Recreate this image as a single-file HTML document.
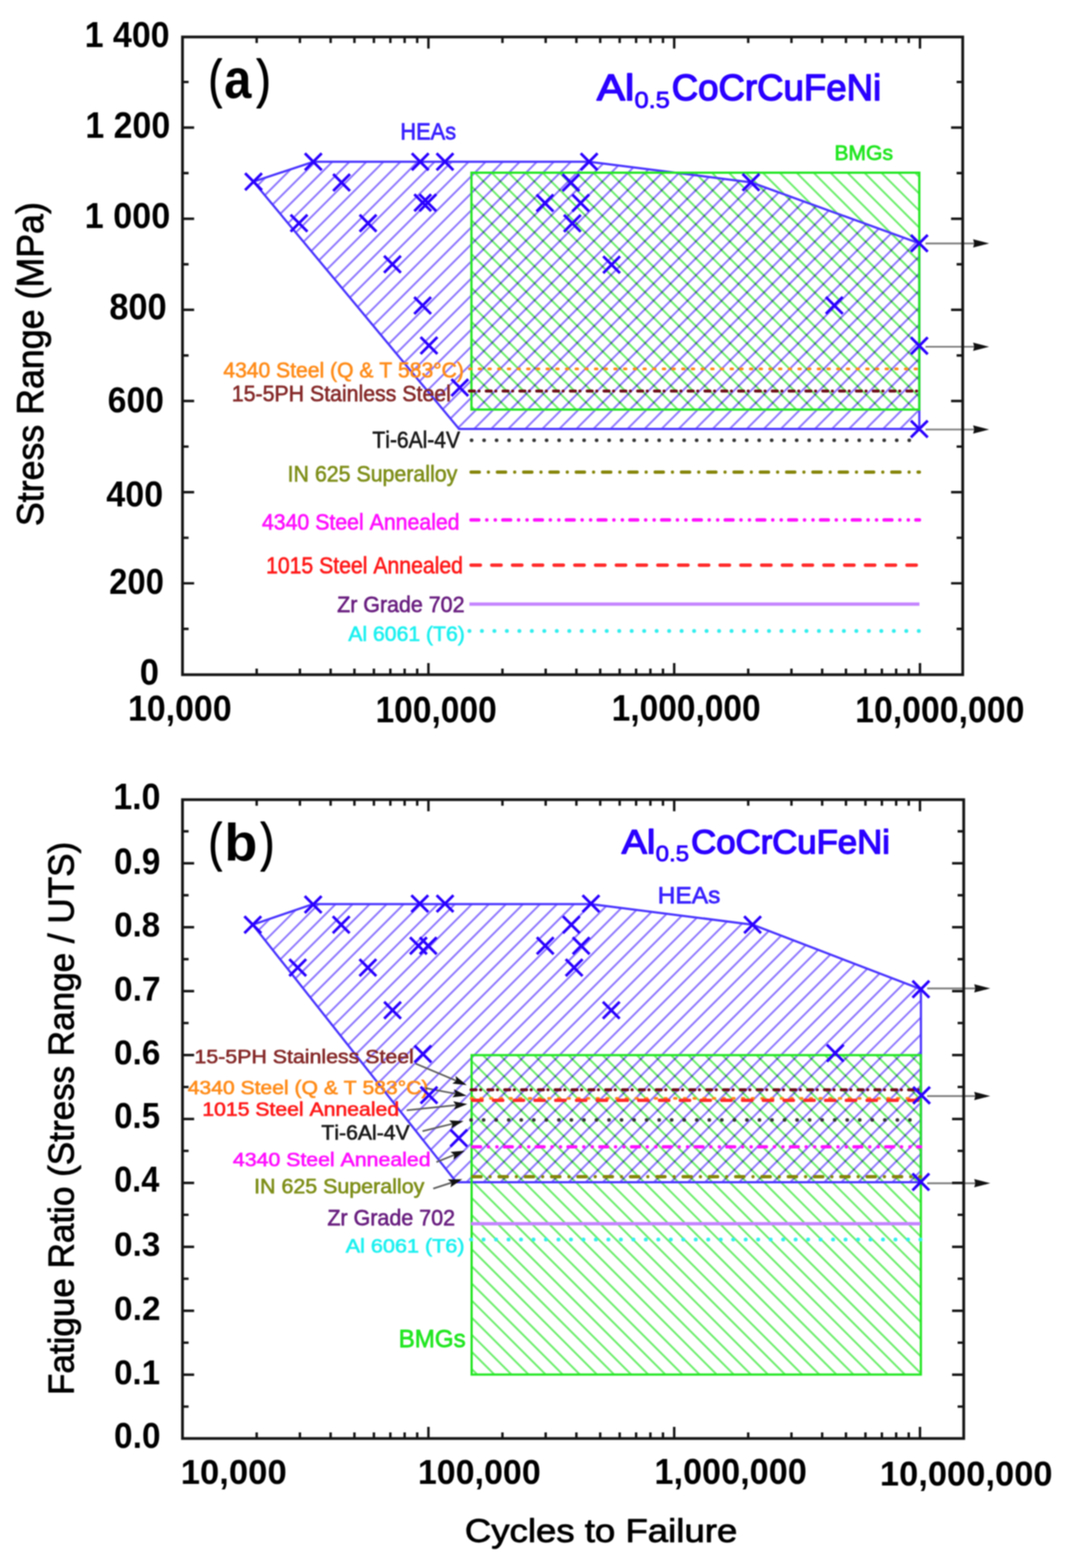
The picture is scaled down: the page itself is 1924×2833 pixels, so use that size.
<!DOCTYPE html><html><head><meta charset="utf-8"><title>Fatigue</title><style>html,body{margin:0;padding:0;background:#fff;overflow:hidden;width:1924px;height:2833px;}svg{display:block;filter:blur(0.9px);}text{font-family:"Liberation Sans",Arial,sans-serif;font-kerning:none;}</style></head><body><svg width="1924" height="2833" viewBox="0 0 1924 2833"><rect width="100%" height="100%" fill="#fff"/><clipPath id="ca_hea"><path d="M458.0 328.2L566.0 292.3L1064.3 292.3L1356.7 329.4L1660.8 439.6L1660.8 775.1L829.4 775.1Z"/></clipPath>
<clipPath id="ca_bmg"><rect x="851.7" y="312.0" width="809.1" height="428.0"/></clipPath>
<path clip-path="url(#ca_bmg)" d="M332.5 307.0L770.5 745.0M363.1 307.0L801.1 745.0M393.7 307.0L831.7 745.0M424.3 307.0L862.3 745.0M454.9 307.0L892.9 745.0M485.5 307.0L923.5 745.0M516.1 307.0L954.1 745.0M546.7 307.0L984.7 745.0M577.3 307.0L1015.3 745.0M607.9 307.0L1045.9 745.0M638.5 307.0L1076.5 745.0M669.1 307.0L1107.1 745.0M699.7 307.0L1137.7 745.0M730.3 307.0L1168.3 745.0M760.9 307.0L1198.9 745.0M791.5 307.0L1229.5 745.0M822.1 307.0L1260.1 745.0M852.7 307.0L1290.7 745.0M883.3 307.0L1321.3 745.0M913.9 307.0L1351.9 745.0M944.5 307.0L1382.5 745.0M975.1 307.0L1413.1 745.0M1005.7 307.0L1443.7 745.0M1036.3 307.0L1474.3 745.0M1066.9 307.0L1504.9 745.0M1097.5 307.0L1535.5 745.0M1128.1 307.0L1566.1 745.0M1158.7 307.0L1596.7 745.0M1189.3 307.0L1627.3 745.0M1219.9 307.0L1657.9 745.0M1250.5 307.0L1688.5 745.0M1281.1 307.0L1719.1 745.0M1311.7 307.0L1749.7 745.0M1342.3 307.0L1780.3 745.0M1372.9 307.0L1810.9 745.0M1403.5 307.0L1841.5 745.0M1434.1 307.0L1872.1 745.0M1464.7 307.0L1902.7 745.0M1495.3 307.0L1933.3 745.0M1525.9 307.0L1963.9 745.0M1556.5 307.0L1994.5 745.0M1587.1 307.0L2025.1 745.0M1617.7 307.0L2055.7 745.0M1648.3 307.0L2086.3 745.0M1678.9 307.0L2116.9 745.0M1709.5 307.0L2147.5 745.0M1740.1 307.0L2178.1 745.0M1770.7 307.0L2208.7 745.0M1801.3 307.0L2239.3 745.0M1831.9 307.0L2269.9 745.0M1862.5 307.0L2300.5 745.0M1893.1 307.0L2331.1 745.0M1923.7 307.0L2361.7 745.0M1954.3 307.0L2392.3 745.0M1984.9 307.0L2422.9 745.0M2015.5 307.0L2453.5 745.0M2046.1 307.0L2484.1 745.0M2076.7 307.0L2514.7 745.0M2107.3 307.0L2545.3 745.0M2137.9 307.0L2575.9 745.0M2168.5 307.0L2606.5 745.0" stroke="#6cee6c" stroke-width="3.5" fill="none" style="mix-blend-mode:multiply"/>
<path clip-path="url(#ca_hea)" d="M392.3 285.0L-102.7 780.0M423.1 285.0L-71.9 780.0M453.9 285.0L-41.1 780.0M484.7 285.0L-10.3 780.0M515.5 285.0L20.5 780.0M546.2 285.0L51.2 780.0M577.0 285.0L82.0 780.0M607.8 285.0L112.8 780.0M638.6 285.0L143.6 780.0M669.4 285.0L174.4 780.0M700.1 285.0L205.1 780.0M730.9 285.0L235.9 780.0M761.7 285.0L266.7 780.0M792.5 285.0L297.5 780.0M823.3 285.0L328.3 780.0M854.0 285.0L359.0 780.0M884.8 285.0L389.8 780.0M915.6 285.0L420.6 780.0M946.4 285.0L451.4 780.0M977.2 285.0L482.2 780.0M1007.9 285.0L512.9 780.0M1038.7 285.0L543.7 780.0M1069.5 285.0L574.5 780.0M1100.3 285.0L605.3 780.0M1131.1 285.0L636.1 780.0M1161.8 285.0L666.8 780.0M1192.6 285.0L697.6 780.0M1223.4 285.0L728.4 780.0M1254.2 285.0L759.2 780.0M1285.0 285.0L790.0 780.0M1315.7 285.0L820.7 780.0M1346.5 285.0L851.5 780.0M1377.3 285.0L882.3 780.0M1408.1 285.0L913.1 780.0M1438.9 285.0L943.9 780.0M1469.6 285.0L974.6 780.0M1500.4 285.0L1005.4 780.0M1531.2 285.0L1036.2 780.0M1562.0 285.0L1067.0 780.0M1592.8 285.0L1097.8 780.0M1623.5 285.0L1128.5 780.0M1654.3 285.0L1159.3 780.0M1685.1 285.0L1190.1 780.0M1715.9 285.0L1220.9 780.0M1746.7 285.0L1251.7 780.0M1777.4 285.0L1282.4 780.0M1808.2 285.0L1313.2 780.0M1839.0 285.0L1344.0 780.0M1869.8 285.0L1374.8 780.0M1900.6 285.0L1405.6 780.0M1931.3 285.0L1436.3 780.0M1962.1 285.0L1467.1 780.0M1992.9 285.0L1497.9 780.0M2023.7 285.0L1528.7 780.0M2054.5 285.0L1559.5 780.0M2085.2 285.0L1590.2 780.0M2116.0 285.0L1621.0 780.0M2146.8 285.0L1651.8 780.0M2177.6 285.0L1682.6 780.0M2208.4 285.0L1713.4 780.0M2239.1 285.0L1744.1 780.0M2269.9 285.0L1774.9 780.0M2300.7 285.0L1805.7 780.0M2331.5 285.0L1836.5 780.0M2362.3 285.0L1867.3 780.0M2393.0 285.0L1898.0 780.0M2423.8 285.0L1928.8 780.0M2454.6 285.0L1959.6 780.0M2485.4 285.0L1990.4 780.0M2516.2 285.0L2021.2 780.0M2546.9 285.0L2051.9 780.0M2577.7 285.0L2082.7 780.0M2608.5 285.0L2113.5 780.0M2639.3 285.0L2144.3 780.0M2670.1 285.0L2175.1 780.0M2700.8 285.0L2205.8 780.0M2731.6 285.0L2236.6 780.0" stroke="#8f78ff" stroke-width="3.5" fill="none" style="mix-blend-mode:multiply"/>
<path d="M458.0 328.2L566.0 292.3L1064.3 292.3L1356.7 329.4L1660.8 439.6L1660.8 775.1L829.4 775.1Z" fill="none" stroke="#4a35ff" stroke-width="4" stroke-linejoin="round"/>
<rect x="851.7" y="312.0" width="809.1" height="428.0" fill="none" stroke="#22e622" stroke-width="4"/>
<path d="M848.0 666.5H1661.0" stroke="#ff8c1a" stroke-width="5.0" stroke-linecap="round" stroke-dasharray="3 14.5" fill="none"/>
<path d="M848.0 706.6H1661.0" stroke="#6e0c18" stroke-width="5.5" stroke-linecap="round" stroke-dasharray="9 8.3 0.1 13" fill="none"/>
<path d="M851.9 795.6H1643.0" stroke="#333" stroke-width="6.5" stroke-linecap="round" stroke-dasharray="0.1 22.49" fill="none"/>
<path d="M851.0 853.0H1661.0" stroke="#85850a" stroke-width="5.8" stroke-linecap="round" stroke-dasharray="15 16.3 0.1 16.1" fill="none"/>
<path d="M851.0 939.4H1661.0" stroke="#ff10ff" stroke-width="6.2" stroke-linecap="round" stroke-dasharray="14 14.4 0.1 15.2 0.1 13.6" fill="none"/>
<path d="M851.0 1021.1H1661.0" stroke="#ff2a2a" stroke-width="6.2" stroke-linecap="round" stroke-dasharray="16.8 20.7" fill="none"/>
<path d="M848.0 1091.6H1661.0" stroke="#c484ff" stroke-width="6.0" stroke-linecap="butt" fill="none"/>
<path d="M848.0 1140.0H1661.0" stroke="#33eeee" stroke-width="7.0" stroke-linecap="round" stroke-dasharray="0.1 22.45" fill="none"/>
<text transform="matrix(0.9820 0 0 1 403.48 682.25)" style="font-size:38.81px;" fill="#ff8c1a" stroke="#ff8c1a" stroke-width="1.10" stroke-linejoin="round">4340 Steel (Q &amp; T 583°C)</text>
<text transform="matrix(0.9662 0 0 1 418.82 724.95)" style="font-size:39.83px;" fill="#862a2a" stroke="#862a2a" stroke-width="1.10" stroke-linejoin="round">15-5PH Stainless Steel</text>
<text transform="matrix(0.8920 0 0 1 672.80 808.85)" style="font-size:42.59px;" fill="#1a1a1a" stroke="#1a1a1a" stroke-width="1.10" stroke-linejoin="round">Ti-6Al-4V</text>
<text transform="matrix(0.9348 0 0 1 519.59 869.75)" style="font-size:41.28px;" fill="#7f8f1a" stroke="#7f8f1a" stroke-width="1.10" stroke-linejoin="round">IN 625 Superalloy</text>
<text transform="matrix(0.9658 0 0 1 473.17 957.05)" style="font-size:39.83px;" fill="#ff10ff" stroke="#ff10ff" stroke-width="1.10" stroke-linejoin="round">4340 Steel Annealed</text>
<text transform="matrix(0.9095 0 0 1 480.63 1036.25)" style="font-size:42.15px;" fill="#ff1a1a" stroke="#ff1a1a" stroke-width="1.10" stroke-linejoin="round">1015 Steel Annealed</text>
<text transform="matrix(0.9687 0 0 1 609.02 1106.05)" style="font-size:39.97px;" fill="#6a2080" stroke="#6a2080" stroke-width="1.10" stroke-linejoin="round">Zr Grade 702</text>
<text transform="matrix(1.0204 0 0 1 629.18 1158.25)" style="font-size:37.50px;" fill="#1ef0f0" stroke="#1ef0f0" stroke-width="1.10" stroke-linejoin="round">Al 6061 (T6)</text>
<path d="M442.8 313.0L473.2 343.4M442.8 343.4L473.2 313.0M550.8 277.1L581.2 307.5M550.8 307.5L581.2 277.1M601.9 314.5L632.3 344.9M601.9 344.9L632.3 314.5M525.0 388.1L555.4 418.5M525.0 418.5L555.4 388.1M649.7 388.1L680.1 418.5M649.7 418.5L680.1 388.1M744.0 277.1L774.4 307.5M744.0 307.5L774.4 277.1M788.7 277.1L819.1 307.5M788.7 307.5L819.1 277.1M748.5 351.0L778.9 381.4M748.5 381.4L778.9 351.0M757.7 351.0L788.1 381.4M757.7 381.4L788.1 351.0M693.8 462.3L724.2 492.7M693.8 492.7L724.2 462.3M748.3 536.8L778.7 567.2M748.3 567.2L778.7 536.8M759.8 609.0L790.2 639.4M759.8 639.4L790.2 609.0M815.5 685.1L845.9 715.5M815.5 715.5L845.9 685.1M1049.1 277.1L1079.5 307.5M1049.1 307.5L1079.5 277.1M1016.2 314.8L1046.6 345.2M1016.2 345.2L1046.6 314.8M969.3 351.5L999.7 381.9M969.3 381.9L999.7 351.5M1033.9 351.5L1064.3 381.9M1033.9 381.9L1064.3 351.5M1018.8 388.3L1049.2 418.7M1018.8 418.7L1049.2 388.3M1089.7 463.1L1120.1 493.5M1089.7 493.5L1120.1 463.1M1341.5 314.2L1371.9 344.6M1341.5 344.6L1371.9 314.2M1492.0 536.6L1522.4 567.0M1492.0 567.0L1522.4 536.6M1645.6 424.4L1676.0 454.8M1645.6 454.8L1676.0 424.4M1645.6 609.6L1676.0 640.0M1645.6 640.0L1676.0 609.6M1645.6 759.9L1676.0 790.3M1645.6 790.3L1676.0 759.9" stroke="#2a00ff" stroke-width="5" fill="none"/>
<path d="M1672.0 439.8H1763.0" stroke="#7a7a7a" stroke-width="3.2"/>
<path d="M1787.0 439.8L1758.0 432.3L1760.0 439.8L1758.0 447.3z" fill="#111"/>
<path d="M1672.0 626.5H1763.0" stroke="#7a7a7a" stroke-width="3.2"/>
<path d="M1787.0 626.5L1758.0 619.0L1760.0 626.5L1758.0 634.0z" fill="#111"/>
<path d="M1672.0 776.0H1763.0" stroke="#7a7a7a" stroke-width="3.2"/>
<path d="M1787.0 776.0L1758.0 768.5L1760.0 776.0L1758.0 783.5z" fill="#111"/>
<text transform="matrix(0.9310 0 0 1 723.32 251.55)" style="font-size:42.30px;" fill="#3a22ff" stroke="#3a22ff" stroke-width="1.30" stroke-linejoin="round">HEAs</text>
<text transform="matrix(1.0357 0 0 1 1507.43 288.75)" style="font-size:36.77px;" fill="#22e622" stroke="#22e622" stroke-width="1.30" stroke-linejoin="round">BMGs</text>
<text transform="matrix(0.7661 0 0 1 376.93 175.43)" style="font-size:94.03px;" fill="#000" stroke="#000" stroke-width="2.20" stroke-linejoin="round">(</text>
<text transform="matrix(0.8767 0 0 1 405.11 176.72)" style="font-size:100.76px;font-weight:bold;" fill="#000">a</text>
<text transform="matrix(0.8063 0 0 1 463.56 175.43)" style="font-size:94.03px;" fill="#000" stroke="#000" stroke-width="2.20" stroke-linejoin="round">)</text>
<text transform="matrix(1.1539 0 0 1 1078.15 180.70)" style="font-size:66.13px;" fill="#2a00ff" stroke="#2a00ff" stroke-width="2.40" stroke-linejoin="round">Al</text>
<text transform="matrix(1.0761 0 0 1 1146.20 194.90)" style="font-size:42.73px;" fill="#2a00ff" stroke="#2a00ff" stroke-width="1.40" stroke-linejoin="round">0.5</text>
<text transform="matrix(1.0000 0 0 1 1213.54 180.70)" style="font-size:66.13px;" fill="#2a00ff" stroke="#2a00ff" stroke-width="2.40" stroke-linejoin="round">CoCrCuFeNi</text>
<rect x="329.7" y="66.8" width="1409.5" height="1152.2" fill="none" stroke="#141414" stroke-width="5"/>
<path d="M463.7 1219.0v-11.0M463.7 66.8v11.0M541.8 1219.0v-11.0M541.8 66.8v11.0M597.3 1219.0v-11.0M597.3 66.8v11.0M640.3 1219.0v-11.0M640.3 66.8v11.0M675.5 1219.0v-11.0M675.5 66.8v11.0M705.2 1219.0v-11.0M705.2 66.8v11.0M731.0 1219.0v-11.0M731.0 66.8v11.0M753.7 1219.0v-11.0M753.7 66.8v11.0M774.0 1219.0v-21.0M774.0 66.8v21.0M907.7 1219.0v-11.0M907.7 66.8v11.0M985.8 1219.0v-11.0M985.8 66.8v11.0M1041.3 1219.0v-11.0M1041.3 66.8v11.0M1084.3 1219.0v-11.0M1084.3 66.8v11.0M1119.5 1219.0v-11.0M1119.5 66.8v11.0M1149.2 1219.0v-11.0M1149.2 66.8v11.0M1175.0 1219.0v-11.0M1175.0 66.8v11.0M1197.7 1219.0v-11.0M1197.7 66.8v11.0M1218.0 1219.0v-21.0M1218.0 66.8v21.0M1351.7 1219.0v-11.0M1351.7 66.8v11.0M1429.8 1219.0v-11.0M1429.8 66.8v11.0M1485.3 1219.0v-11.0M1485.3 66.8v11.0M1528.3 1219.0v-11.0M1528.3 66.8v11.0M1563.5 1219.0v-11.0M1563.5 66.8v11.0M1593.2 1219.0v-11.0M1593.2 66.8v11.0M1619.0 1219.0v-11.0M1619.0 66.8v11.0M1641.7 1219.0v-11.0M1641.7 66.8v11.0M1662.0 1219.0v-21.0M1662.0 66.8v21.0M329.7 1053.9h21.0M1739.2 1053.9h-21.0M329.7 889.2h21.0M1739.2 889.2h-21.0M329.7 724.5h21.0M1739.2 724.5h-21.0M329.7 559.8h21.0M1739.2 559.8h-21.0M329.7 395.2h21.0M1739.2 395.2h-21.0M329.7 230.5h21.0M1739.2 230.5h-21.0M329.7 1136.3h11.0M1739.2 1136.3h-11.0M329.7 971.6h11.0M1739.2 971.6h-11.0M329.7 806.9h11.0M1739.2 806.9h-11.0M329.7 642.2h11.0M1739.2 642.2h-11.0M329.7 477.5h11.0M1739.2 477.5h-11.0M329.7 312.8h11.0M1739.2 312.8h-11.0M329.7 148.1h11.0M1739.2 148.1h-11.0" stroke="#141414" stroke-width="4.4" fill="none"/>
<text transform="matrix(0.9377 0 0 1 152.94 84.50)" style="font-size:65.41px;font-weight:bold;" fill="#000">1 400</text>
<text transform="matrix(0.9267 0 0 1 154.14 249.00)" style="font-size:66.13px;font-weight:bold;" fill="#000">1 200</text>
<text transform="matrix(0.9426 0 0 1 152.91 411.60)" style="font-size:65.55px;font-weight:bold;" fill="#000">1 000</text>
<text transform="matrix(0.9348 0 0 1 197.42 576.80)" style="font-size:66.57px;font-weight:bold;" fill="#000">800</text>
<text transform="matrix(0.9262 0 0 1 194.57 744.60)" style="font-size:65.70px;font-weight:bold;" fill="#000">600</text>
<text transform="matrix(0.9405 0 0 1 191.97 915.00)" style="font-size:65.55px;font-weight:bold;" fill="#000">400</text>
<text transform="matrix(0.9002 0 0 1 197.35 1072.60)" style="font-size:65.70px;font-weight:bold;" fill="#000">200</text>
<text transform="matrix(0.9320 0 0 1 252.43 1236.60)" style="font-size:67.01px;font-weight:bold;" fill="#000">0</text>
<text transform="matrix(0.9366 0 0 1 231.14 1302.00)" style="font-size:65.41px;font-weight:bold;" fill="#000">10,000</text>
<text transform="matrix(0.9185 0 0 1 678.38 1305.40)" style="font-size:65.99px;font-weight:bold;" fill="#000">100,000</text>
<text transform="matrix(0.9166 0 0 1 1105.09 1302.00)" style="font-size:65.99px;font-weight:bold;" fill="#000">1,000,000</text>
<text transform="matrix(0.9258 0 0 1 1544.95 1305.40)" style="font-size:65.99px;font-weight:bold;" fill="#000">10,000,000</text>
<text transform="translate(77.80 950.53) rotate(-90) scale(0.9339 1)" style="font-size:69.19px;" fill="#000" stroke="#000" stroke-width="1.40" stroke-linejoin="round">Stress Range (MPa)</text>
<clipPath id="cb_hea"><path d="M456.7 1670.7L565.7 1633.4L1067.6 1633.4L1359.6 1670.7L1663.7 1787.3L1663.7 2136.0L824.5 2136.0Z"/></clipPath>
<clipPath id="cb_bmg"><rect x="852.0" y="1906.4" width="811.6" height="577.1"/></clipPath>
<path clip-path="url(#cb_bmg)" d="M-399.6 1901.4L187.5 2488.5M-368.7 1901.4L218.4 2488.5M-337.8 1901.4L249.3 2488.5M-306.9 1901.4L280.2 2488.5M-276.0 1901.4L311.1 2488.5M-245.1 1901.4L342.0 2488.5M-214.2 1901.4L372.9 2488.5M-183.3 1901.4L403.8 2488.5M-152.4 1901.4L434.7 2488.5M-121.5 1901.4L465.6 2488.5M-90.6 1901.4L496.5 2488.5M-59.7 1901.4L527.4 2488.5M-28.8 1901.4L558.3 2488.5M2.1 1901.4L589.2 2488.5M33.0 1901.4L620.1 2488.5M63.9 1901.4L651.0 2488.5M94.8 1901.4L681.9 2488.5M125.7 1901.4L712.8 2488.5M156.6 1901.4L743.7 2488.5M187.5 1901.4L774.6 2488.5M218.4 1901.4L805.5 2488.5M249.3 1901.4L836.4 2488.5M280.2 1901.4L867.3 2488.5M311.1 1901.4L898.2 2488.5M342.0 1901.4L929.1 2488.5M372.9 1901.4L960.0 2488.5M403.8 1901.4L990.9 2488.5M434.7 1901.4L1021.8 2488.5M465.6 1901.4L1052.7 2488.5M496.5 1901.4L1083.6 2488.5M527.4 1901.4L1114.5 2488.5M558.3 1901.4L1145.4 2488.5M589.2 1901.4L1176.3 2488.5M620.1 1901.4L1207.2 2488.5M651.0 1901.4L1238.1 2488.5M681.9 1901.4L1269.0 2488.5M712.8 1901.4L1299.9 2488.5M743.7 1901.4L1330.8 2488.5M774.6 1901.4L1361.7 2488.5M805.5 1901.4L1392.6 2488.5M836.4 1901.4L1423.5 2488.5M867.3 1901.4L1454.4 2488.5M898.2 1901.4L1485.3 2488.5M929.1 1901.4L1516.2 2488.5M960.0 1901.4L1547.1 2488.5M990.9 1901.4L1578.0 2488.5M1021.8 1901.4L1608.9 2488.5M1052.7 1901.4L1639.8 2488.5M1083.6 1901.4L1670.7 2488.5M1114.5 1901.4L1701.6 2488.5M1145.4 1901.4L1732.5 2488.5M1176.3 1901.4L1763.4 2488.5M1207.2 1901.4L1794.3 2488.5M1238.1 1901.4L1825.2 2488.5M1269.0 1901.4L1856.1 2488.5M1299.9 1901.4L1887.0 2488.5M1330.8 1901.4L1917.9 2488.5M1361.7 1901.4L1948.8 2488.5M1392.6 1901.4L1979.7 2488.5M1423.5 1901.4L2010.6 2488.5M1454.4 1901.4L2041.5 2488.5M1485.3 1901.4L2072.4 2488.5M1516.2 1901.4L2103.3 2488.5M1547.1 1901.4L2134.2 2488.5M1578.0 1901.4L2165.1 2488.5M1608.9 1901.4L2196.0 2488.5M1639.8 1901.4L2226.9 2488.5M1670.7 1901.4L2257.8 2488.5M1701.6 1901.4L2288.7 2488.5M1732.5 1901.4L2319.6 2488.5" stroke="#6cee6c" stroke-width="3.5" fill="none" style="mix-blend-mode:multiply"/>
<path clip-path="url(#cb_hea)" d="M368.7 1625.0L-146.3 2140.0M399.5 1625.0L-115.5 2140.0M430.2 1625.0L-84.8 2140.0M461.0 1625.0L-54.0 2140.0M491.8 1625.0L-23.2 2140.0M522.6 1625.0L7.6 2140.0M553.4 1625.0L38.4 2140.0M584.1 1625.0L69.1 2140.0M614.9 1625.0L99.9 2140.0M645.7 1625.0L130.7 2140.0M676.5 1625.0L161.5 2140.0M707.3 1625.0L192.3 2140.0M738.0 1625.0L223.0 2140.0M768.8 1625.0L253.8 2140.0M799.6 1625.0L284.6 2140.0M830.4 1625.0L315.4 2140.0M861.2 1625.0L346.2 2140.0M891.9 1625.0L376.9 2140.0M922.7 1625.0L407.7 2140.0M953.5 1625.0L438.5 2140.0M984.3 1625.0L469.3 2140.0M1015.1 1625.0L500.1 2140.0M1045.8 1625.0L530.8 2140.0M1076.6 1625.0L561.6 2140.0M1107.4 1625.0L592.4 2140.0M1138.2 1625.0L623.2 2140.0M1169.0 1625.0L654.0 2140.0M1199.7 1625.0L684.7 2140.0M1230.5 1625.0L715.5 2140.0M1261.3 1625.0L746.3 2140.0M1292.1 1625.0L777.1 2140.0M1322.9 1625.0L807.9 2140.0M1353.6 1625.0L838.6 2140.0M1384.4 1625.0L869.4 2140.0M1415.2 1625.0L900.2 2140.0M1446.0 1625.0L931.0 2140.0M1476.8 1625.0L961.8 2140.0M1507.5 1625.0L992.5 2140.0M1538.3 1625.0L1023.3 2140.0M1569.1 1625.0L1054.1 2140.0M1599.9 1625.0L1084.9 2140.0M1630.7 1625.0L1115.7 2140.0M1661.4 1625.0L1146.4 2140.0M1692.2 1625.0L1177.2 2140.0M1723.0 1625.0L1208.0 2140.0M1753.8 1625.0L1238.8 2140.0M1784.6 1625.0L1269.6 2140.0M1815.3 1625.0L1300.3 2140.0M1846.1 1625.0L1331.1 2140.0M1876.9 1625.0L1361.9 2140.0M1907.7 1625.0L1392.7 2140.0M1938.5 1625.0L1423.5 2140.0M1969.2 1625.0L1454.2 2140.0M2000.0 1625.0L1485.0 2140.0M2030.8 1625.0L1515.8 2140.0M2061.6 1625.0L1546.6 2140.0M2092.4 1625.0L1577.4 2140.0M2123.1 1625.0L1608.1 2140.0M2153.9 1625.0L1638.9 2140.0M2184.7 1625.0L1669.7 2140.0M2215.5 1625.0L1700.5 2140.0M2246.3 1625.0L1731.3 2140.0M2277.0 1625.0L1762.0 2140.0M2307.8 1625.0L1792.8 2140.0M2338.6 1625.0L1823.6 2140.0M2369.4 1625.0L1854.4 2140.0M2400.2 1625.0L1885.2 2140.0M2430.9 1625.0L1915.9 2140.0M2461.7 1625.0L1946.7 2140.0M2492.5 1625.0L1977.5 2140.0M2523.3 1625.0L2008.3 2140.0M2554.1 1625.0L2039.1 2140.0M2584.8 1625.0L2069.8 2140.0M2615.6 1625.0L2100.6 2140.0M2646.4 1625.0L2131.4 2140.0M2677.2 1625.0L2162.2 2140.0M2708.0 1625.0L2193.0 2140.0M2738.7 1625.0L2223.7 2140.0M2769.5 1625.0L2254.5 2140.0" stroke="#8f78ff" stroke-width="3.5" fill="none" style="mix-blend-mode:multiply"/>
<path d="M456.7 1670.7L565.7 1633.4L1067.6 1633.4L1359.6 1670.7L1663.7 1787.3L1663.7 2136.0L824.5 2136.0Z" fill="none" stroke="#4a35ff" stroke-width="4" stroke-linejoin="round"/>
<rect x="852.0" y="1906.4" width="811.6" height="577.1" fill="none" stroke="#22e622" stroke-width="4"/>
<path d="M851.0 1968.9H1663.0" stroke="#6e0c18" stroke-width="5.5" stroke-linecap="round" stroke-dasharray="9 8.3 0.1 13" fill="none"/>
<path d="M851.0 1984.5H1663.0" stroke="#ff8c1a" stroke-width="5.0" stroke-linecap="round" stroke-dasharray="3 14.5" fill="none"/>
<path d="M854.0 1988.0H1663.0" stroke="#ff2a2a" stroke-width="6.2" stroke-linecap="round" stroke-dasharray="16.8 20.7" fill="none"/>
<path d="M851.0 2023.6H1645.0" stroke="#333" stroke-width="6.5" stroke-linecap="round" stroke-dasharray="0.1 22.55" fill="none"/>
<path d="M854.0 2072.0H1663.0" stroke="#ff10ff" stroke-width="6.2" stroke-linecap="round" stroke-dasharray="14 14.4 0.1 15.2 0.1 13.6" fill="none"/>
<path d="M854.0 2126.0H1663.0" stroke="#85850a" stroke-width="5.8" stroke-linecap="round" stroke-dasharray="15 16.3 0.1 16.1" fill="none"/>
<path d="M851.0 2211.0H1663.0" stroke="#c484ff" stroke-width="6.0" stroke-linecap="butt" fill="none"/>
<path d="M851.0 2239.5H1663.0" stroke="#33eeee" stroke-width="7.0" stroke-linecap="round" stroke-dasharray="0.1 22.45" fill="none"/>
<text transform="matrix(1.0872 0 0 1 351.31 1920.95)" style="font-size:35.47px;" fill="#862a2a" stroke="#862a2a" stroke-width="1.10" stroke-linejoin="round">15-5PH Stainless Steel</text>
<text transform="matrix(1.1026 0 0 1 339.17 1977.05)" style="font-size:34.59px;" fill="#ff8c1a" stroke="#ff8c1a" stroke-width="1.10" stroke-linejoin="round">4340 Steel (Q &amp; T 583°C)</text>
<text transform="matrix(1.1116 0 0 1 365.53 2016.05)" style="font-size:34.45px;" fill="#ff1a1a" stroke="#ff1a1a" stroke-width="1.10" stroke-linejoin="round">1015 Steel Annealed</text>
<text transform="matrix(1.0334 0 0 1 580.49 2058.65)" style="font-size:37.06px;" fill="#1a1a1a" stroke="#1a1a1a" stroke-width="1.10" stroke-linejoin="round">Ti-6Al-4V</text>
<text transform="matrix(1.1166 0 0 1 420.77 2106.55)" style="font-size:34.45px;" fill="#ff10ff" stroke="#ff10ff" stroke-width="1.10" stroke-linejoin="round">4340 Steel Annealed</text>
<text transform="matrix(1.0442 0 0 1 458.98 2156.25)" style="font-size:37.06px;" fill="#7f8f1a" stroke="#7f8f1a" stroke-width="1.10" stroke-linejoin="round">IN 625 Superalloy</text>
<text transform="matrix(0.9463 0 0 1 591.42 2213.85)" style="font-size:40.99px;" fill="#6a2080" stroke="#6a2080" stroke-width="1.10" stroke-linejoin="round">Zr Grade 702</text>
<text transform="matrix(1.1144 0 0 1 624.57 2262.65)" style="font-size:35.03px;" fill="#1ef0f0" stroke="#1ef0f0" stroke-width="1.10" stroke-linejoin="round">Al 6061 (T6)</text>
<path d="M750.8 1921.7L824.3 1952.6" stroke="#5a5a5a" stroke-width="3"/>
<path d="M843.2 1960.5L817.2 1957.7L824.3 1952.6L823.1 1943.9z" fill="#111"/>
<path d="M769.0 1966.0L823.0 1976.1" stroke="#5a5a5a" stroke-width="3"/>
<path d="M843.2 1979.8L817.3 1982.6L823.0 1976.1L820.0 1967.9z" fill="#111"/>
<path d="M734.8 2006.0L823.9 1996.8" stroke="#5a5a5a" stroke-width="3"/>
<path d="M844.3 1994.7L820.2 2004.7L823.9 1996.8L818.7 1989.8z" fill="#111"/>
<path d="M763.3 2043.7L817.6 2030.4" stroke="#5a5a5a" stroke-width="3"/>
<path d="M837.5 2025.5L815.0 2038.7L817.6 2030.4L811.4 2024.2z" fill="#111"/>
<path d="M788.4 2099.6L820.8 2086.6" stroke="#5a5a5a" stroke-width="3"/>
<path d="M839.8 2079.0L819.4 2095.3L820.8 2086.6L813.8 2081.3z" fill="#111"/>
<path d="M782.7 2147.5L815.7 2136.7" stroke="#5a5a5a" stroke-width="3"/>
<path d="M835.2 2130.4L813.8 2145.3L815.7 2136.7L809.1 2131.0z" fill="#111"/>
<path d="M441.5 1655.5L471.9 1685.9M441.5 1685.9L471.9 1655.5M550.5 1619.0L580.9 1649.4M550.5 1649.4L580.9 1619.0M601.2 1655.5L631.6 1685.9M601.2 1685.9L631.6 1655.5M522.7 1733.0L553.1 1763.4M522.7 1763.4L553.1 1733.0M649.4 1733.0L679.8 1763.4M649.4 1763.4L679.8 1733.0M743.2 1617.4L773.6 1647.8M743.2 1647.8L773.6 1617.4M788.8 1617.4L819.2 1647.8M788.8 1647.8L819.2 1617.4M740.7 1693.5L771.1 1723.9M740.7 1723.9L771.1 1693.5M758.4 1693.5L788.8 1723.9M758.4 1723.9L788.8 1693.5M694.0 1810.1L724.4 1840.5M694.0 1840.5L724.4 1810.1M1052.4 1617.4L1082.8 1647.8M1052.4 1647.8L1082.8 1617.4M1017.0 1655.5L1047.4 1685.9M1017.0 1685.9L1047.4 1655.5M969.8 1693.5L1000.2 1723.9M969.8 1723.9L1000.2 1693.5M1034.7 1693.5L1065.1 1723.9M1034.7 1723.9L1065.1 1693.5M1022.0 1733.0L1052.4 1763.4M1022.0 1763.4L1052.4 1733.0M1089.1 1810.1L1119.5 1840.5M1089.1 1840.5L1119.5 1810.1M748.8 1889.0L779.2 1919.4M748.8 1919.4L779.2 1889.0M759.8 1963.4L790.2 1993.8M759.8 1993.8L790.2 1963.4M813.7 2041.1L844.1 2071.5M813.7 2071.5L844.1 2041.1M1344.4 1655.5L1374.8 1685.9M1344.4 1685.9L1374.8 1655.5M1493.8 1887.6L1524.2 1918.0M1493.8 1918.0L1524.2 1887.6M1648.5 1772.1L1678.9 1802.5M1648.5 1802.5L1678.9 1772.1M1649.7 1963.8L1680.1 1994.2M1649.7 1994.2L1680.1 1963.8M1648.4 2120.3L1678.8 2150.7M1648.4 2150.7L1678.8 2120.3" stroke="#2a00ff" stroke-width="5" fill="none"/>
<path d="M1675.0 1785.8H1765.0" stroke="#7a7a7a" stroke-width="3.2"/>
<path d="M1789.0 1785.8L1760.0 1778.3L1762.0 1785.8L1760.0 1793.3z" fill="#111"/>
<path d="M1675.0 1980.3H1765.0" stroke="#7a7a7a" stroke-width="3.2"/>
<path d="M1789.0 1980.3L1760.0 1972.8L1762.0 1980.3L1760.0 1987.8z" fill="#111"/>
<path d="M1675.0 2137.8H1765.0" stroke="#7a7a7a" stroke-width="3.2"/>
<path d="M1789.0 2137.8L1760.0 2130.3L1762.0 2137.8L1760.0 2145.3z" fill="#111"/>
<text transform="matrix(1.0444 0 0 1 1188.33 1631.95)" style="font-size:42.30px;" fill="#3a22ff" stroke="#3a22ff" stroke-width="1.30" stroke-linejoin="round">HEAs</text>
<text transform="matrix(0.9734 0 0 1 720.18 2434.05)" style="font-size:44.77px;" fill="#22e622" stroke="#22e622" stroke-width="1.30" stroke-linejoin="round">BMGs</text>
<text transform="matrix(0.7661 0 0 1 376.93 1554.43)" style="font-size:94.03px;" fill="#000" stroke="#000" stroke-width="2.20" stroke-linejoin="round">(</text>
<text transform="matrix(1.0317 0 0 1 405.26 1554.78)" style="font-size:94.64px;font-weight:bold;" fill="#000">b</text>
<text transform="matrix(0.7862 0 0 1 470.67 1554.43)" style="font-size:94.03px;" fill="#000" stroke="#000" stroke-width="2.20" stroke-linejoin="round">)</text>
<text transform="matrix(1.1116 0 0 1 1123.27 1542.10)" style="font-size:61.19px;" fill="#2a00ff" stroke="#2a00ff" stroke-width="2.40" stroke-linejoin="round">Al</text>
<text transform="matrix(1.0758 0 0 1 1184.61 1556.30)" style="font-size:40.26px;" fill="#2a00ff" stroke="#2a00ff" stroke-width="1.40" stroke-linejoin="round">0.5</text>
<text transform="matrix(1.0257 0 0 1 1248.61 1542.10)" style="font-size:61.19px;" fill="#2a00ff" stroke="#2a00ff" stroke-width="2.40" stroke-linejoin="round">CoCrCuFeNi</text>
<rect x="329.7" y="1444.8" width="1411.3" height="1154.2" fill="none" stroke="#141414" stroke-width="5"/>
<path d="M463.7 2599.0v-11.0M463.7 1444.8v11.0M541.8 2599.0v-11.0M541.8 1444.8v11.0M597.3 2599.0v-11.0M597.3 1444.8v11.0M640.3 2599.0v-11.0M640.3 1444.8v11.0M675.5 2599.0v-11.0M675.5 1444.8v11.0M705.2 2599.0v-11.0M705.2 1444.8v11.0M731.0 2599.0v-11.0M731.0 1444.8v11.0M753.7 2599.0v-11.0M753.7 1444.8v11.0M774.0 2599.0v-21.0M774.0 1444.8v21.0M907.7 2599.0v-11.0M907.7 1444.8v11.0M985.8 2599.0v-11.0M985.8 1444.8v11.0M1041.3 2599.0v-11.0M1041.3 1444.8v11.0M1084.3 2599.0v-11.0M1084.3 1444.8v11.0M1119.5 2599.0v-11.0M1119.5 1444.8v11.0M1149.2 2599.0v-11.0M1149.2 1444.8v11.0M1175.0 2599.0v-11.0M1175.0 1444.8v11.0M1197.7 2599.0v-11.0M1197.7 1444.8v11.0M1218.0 2599.0v-21.0M1218.0 1444.8v21.0M1351.7 2599.0v-11.0M1351.7 1444.8v11.0M1429.8 2599.0v-11.0M1429.8 1444.8v11.0M1485.3 2599.0v-11.0M1485.3 1444.8v11.0M1528.3 2599.0v-11.0M1528.3 1444.8v11.0M1563.5 2599.0v-11.0M1563.5 1444.8v11.0M1593.2 2599.0v-11.0M1593.2 1444.8v11.0M1619.0 2599.0v-11.0M1619.0 1444.8v11.0M1641.7 2599.0v-11.0M1641.7 1444.8v11.0M1662.0 2599.0v-21.0M1662.0 1444.8v21.0M329.7 2483.7h21.0M1741.0 2483.7h-21.0M329.7 2368.2h21.0M1741.0 2368.2h-21.0M329.7 2252.7h21.0M1741.0 2252.7h-21.0M329.7 2137.2h21.0M1741.0 2137.2h-21.0M329.7 2021.7h21.0M1741.0 2021.7h-21.0M329.7 1906.2h21.0M1741.0 1906.2h-21.0M329.7 1790.7h21.0M1741.0 1790.7h-21.0M329.7 1675.2h21.0M1741.0 1675.2h-21.0M329.7 1559.7h21.0M1741.0 1559.7h-21.0M329.7 2541.4h11.0M1741.0 2541.4h-11.0M329.7 2425.9h11.0M1741.0 2425.9h-11.0M329.7 2310.4h11.0M1741.0 2310.4h-11.0M329.7 2194.9h11.0M1741.0 2194.9h-11.0M329.7 2079.4h11.0M1741.0 2079.4h-11.0M329.7 1963.9h11.0M1741.0 1963.9h-11.0M329.7 1848.4h11.0M1741.0 1848.4h-11.0M329.7 1733.0h11.0M1741.0 1733.0h-11.0M329.7 1617.5h11.0M1741.0 1617.5h-11.0M329.7 1502.0h11.0M1741.0 1502.0h-11.0" stroke="#141414" stroke-width="4.4" fill="none"/>
<text transform="matrix(0.9187 0 0 1 204.63 1462.00)" style="font-size:66.86px;font-weight:bold;" fill="#000">1.0</text>
<text transform="matrix(0.9055 0 0 1 206.12 1578.70)" style="font-size:66.43px;font-weight:bold;" fill="#000">0.9</text>
<text transform="matrix(0.9381 0 0 1 206.13 1691.70)" style="font-size:63.81px;font-weight:bold;" fill="#000">0.8</text>
<text transform="matrix(0.9475 0 0 1 206.11 1807.90)" style="font-size:63.81px;font-weight:bold;" fill="#000">0.7</text>
<text transform="matrix(0.9419 0 0 1 206.12 1922.80)" style="font-size:63.81px;font-weight:bold;" fill="#000">0.6</text>
<text transform="matrix(0.9091 0 0 1 206.14 2037.80)" style="font-size:65.70px;font-weight:bold;" fill="#000">0.5</text>
<text transform="matrix(0.8939 0 0 1 206.18 2152.70)" style="font-size:65.70px;font-weight:bold;" fill="#000">0.4</text>
<text transform="matrix(0.9706 0 0 1 206.12 2268.80)" style="font-size:61.92px;font-weight:bold;" fill="#000">0.3</text>
<text transform="matrix(0.9735 0 0 1 206.12 2385.00)" style="font-size:61.92px;font-weight:bold;" fill="#000">0.2</text>
<text transform="matrix(0.9360 0 0 1 206.14 2501.20)" style="font-size:63.81px;font-weight:bold;" fill="#000">0.1</text>
<text transform="matrix(0.9182 0 0 1 206.11 2616.20)" style="font-size:65.70px;font-weight:bold;" fill="#000">0.0</text>
<text transform="matrix(1.0024 0 0 1 326.45 2681.00)" style="font-size:62.50px;font-weight:bold;" fill="#000">10,000</text>
<text transform="matrix(0.9821 0 0 1 754.93 2681.00)" style="font-size:62.50px;font-weight:bold;" fill="#000">100,000</text>
<text transform="matrix(0.9590 0 0 1 1182.30 2681.00)" style="font-size:64.54px;font-weight:bold;" fill="#000">1,000,000</text>
<text transform="matrix(0.9836 0 0 1 1589.57 2683.60)" style="font-size:63.37px;font-weight:bold;" fill="#000">10,000,000</text>
<text transform="matrix(1.1064 0 0 1 839.84 2786.30)" style="font-size:59.74px;" fill="#000" stroke="#000" stroke-width="1.40" stroke-linejoin="round">Cycles to Failure</text>
<text transform="translate(132.60 2520.50) rotate(-90) scale(0.9792 1)" style="font-size:64.68px;" fill="#000" stroke="#000" stroke-width="1.40" stroke-linejoin="round">Fatigue Ratio (Stress Range / UTS)</text></svg></body></html>
